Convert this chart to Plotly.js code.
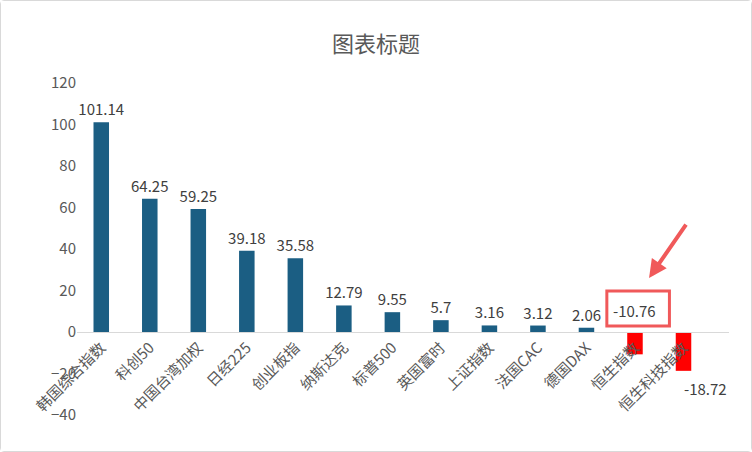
<!DOCTYPE html>
<html>
<head>
<meta charset="utf-8">
<script src="https://cdn.plot.ly/plotly-3.0.1.min.js"></script>
<style>
body{margin:0;background:#fff;}
#chart{width:750px;height:450px;border:1px solid #d9d9d9;border-radius:4px;}
</style>
</head>
<body>
<div id="chart"></div>
<script>
// categories and values
const names = ["韩国综合指数","科创50","中国台湾加权","日经225","创业板指","纳斯达克","标普500","英国富时","上证指数","法国CAC","德国DAX","恒生指数","恒生科技指数"];
const values = [101.14, 64.25, 59.25, 39.18, 35.58, 12.79, 9.55, 5.7, 3.16, 3.12, 2.06, -10.76, -18.72];

const colors = values.map(v => v < 0 ? "#ff0000" : "#1b5e83");
const labels = values.map(v => v < 0 ? "" : String(v));

const trace = {
  x: names,
  y: values,
  type: "bar",
  width: 0.32,
  marker: {color: colors},
  text: labels,
  textposition: "outside",
  constraintext: "none",
  cliponaxis: false,
  textfont: {size: 15, color: "#404040"},
  hoverinfo: "none"
};

// negative labels are placed by hand like in the reference
const negLabels = [
  {x: 11, y: 10.6, text: "-10.76", showarrow: false, xref: "x", yref: "y"},
  {x: 12, y: -27, xshift: 22, text: "-18.72", showarrow: false, xref: "x", yref: "y"},
  {x: 11.29, y: 26, ax: 38, ay: -55, text: "", showarrow: true, arrowhead: 2,
   arrowsize: 0.9, arrowwidth: 4, arrowcolor: "#f0595a", xref: "x", yref: "y"}
];

const layout = {
  width: 750, height: 450,
  margin: {l: 76, r: 22, t: 82, b: 36},
  title: {text: "图表标题", font: {size: 22, color: "#595959"}, y: 0.92},
  font: {family: "Noto Sans CJK SC, sans-serif", size: 15, color: "#595959"},
  showlegend: false,
  plot_bgcolor: "#fff", paper_bgcolor: "#fff",
  yaxis: {range: [-40, 120], tickvals: [-40,-20,0,20,40,60,80,100,120], showgrid: false,
          zeroline: false, ticks: "", tickfont: {size: 15, color: "#595959"}},
  xaxis: {anchor: "free", position: 0.25, tickangle: -45, showline: true, linecolor: "#d9d9d9",
          ticks: "", tickfont: {size: 15, color: "#595959"}},
  annotations: negLabels.map(a => Object.assign({font: {size: 15, color: "#404040"}}, a)),
  shapes: [{type: "rect", xref: "x", yref: "y", x0: 10.42, x1: 11.71, y0: 2.9, y1: 19.8,
            line: {color: "#f0595a", width: 3}}]
};

Plotly.newPlot("chart", [trace], layout, {displayModeBar: false});
</script>
</body>
</html>
